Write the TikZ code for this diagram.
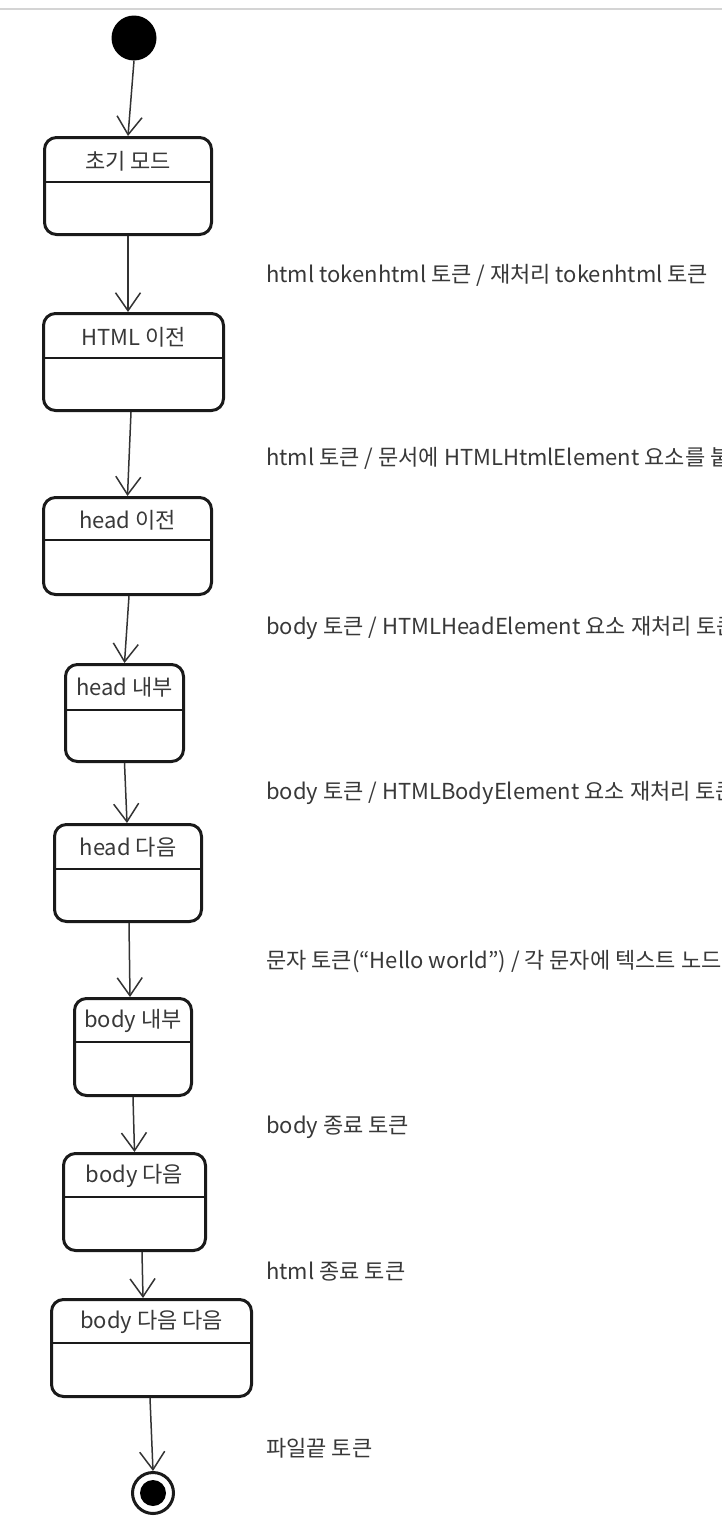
\documentclass[tikz,border=0pt]{standalone}
\usepackage{fontspec}
\setmainfont{Noto Sans CJK KR}
\usetikzlibrary{arrows.meta,positioning}
\definecolor{boxline}{HTML}{1A1A1A}
\definecolor{arrowline}{HTML}{333333}
\definecolor{textgray}{HTML}{383838}
\definecolor{topline}{HTML}{D4D4D4}

\begin{document}
\begin{tikzpicture}[x=1pt,y=-1pt,
    state/.style={draw=boxline,line width=3pt,rounded corners=12pt,minimum height=97pt,inner sep=0pt},
    statename/.style={text=textgray,font=\fontsize{22}{26}\selectfont,inner sep=0pt},
    divider/.style={draw=boxline,line width=1.6pt},
    trans/.style={draw=arrowline,line width=1.5pt,-{Straight Barb[length=18pt,width=25pt]}},
    translabel/.style={anchor=west,text=textgray,font=\fontsize{22}{26}\selectfont,inner sep=0pt}]
    \path[use as bounding box] (0,0) rectangle (722,1518);
    \clip (0,0) rectangle (722,1518);
    \draw[topline,line width=2pt] (0,9) -- (722,9);

    % states
    \node[circle,fill=black,minimum size=45pt,inner sep=0pt] (start) at (134,38) {};
    \node[state,minimum width=167pt] (init) at (128,186) {};
    \node[state,minimum width=180pt] (htmlbefore) at (133.5,362) {};
    \node[state,minimum width=168pt] (headbefore) at (127.5,546) {};
    \node[state,minimum width=118pt] (headin) at (124.5,713) {};
    \node[state,minimum width=147pt] (headafter) at (128,873) {};
    \node[state,minimum width=117pt] (bodyin) at (133,1047) {};
    \node[state,minimum width=142pt] (bodyafter) at (134.5,1202) {};
    \node[state,minimum width=200pt] (bodyafterafter) at (151.5,1348) {};
    \node[circle,draw=boxline,line width=3pt,minimum size=41pt,inner sep=0pt] (stop) at (153,1493) {};
    \fill[black] (stop.center) circle (13pt);

    % names and dividers
    \node[statename] (initname) at ([yshift=-25pt]init.north) {초기 모드};
    \node[statename] (htmlbeforename) at ([yshift=-25pt]htmlbefore.north) {HTML 이전};
    \node[statename] (headbeforename) at ([yshift=-24pt]headbefore.north) {head 이전};
    \node[statename] (headinname) at ([yshift=-24pt]headin.north) {head 내부};
    \node[statename] (headaftername) at ([yshift=-24pt]headafter.north) {head 다음};
    \node[statename] (bodyinname) at ([yshift=-24pt]bodyin.north) {body 내부};
    \node[statename] (bodyaftername) at ([yshift=-24pt]bodyafter.north) {body 다음};
    \node[statename] (bodyafteraftername) at ([yshift=-24pt]bodyafterafter.north) {body 다음 다음};
    \foreach \s/\d in {init/46,htmlbefore/46,headbefore/44,headin/47,headafter/46,bodyin/45,bodyafter/45,bodyafterafter/45} {
        \draw[divider] ([yshift=-\d pt]\s.north west) -- ([yshift=-\d pt]\s.north east);
    }

    % transitions
    \draw[trans] (start.south) -- (init.north);
    \draw[trans] (init.south) -- ([xshift=-5.5pt]htmlbefore.north);
    \draw[trans] ([xshift=-2.5pt]htmlbefore.south) -- (headbefore.north);
    \draw[trans] ([xshift=1.5pt]headbefore.south) -- (headin.north);
    \draw[trans] (headin.south) -- ([xshift=-1pt]headafter.north);
    \draw[trans] ([xshift=1pt]headafter.south) -- ([xshift=-3pt]bodyin.north);
    \draw[trans] (bodyin.south) -- (bodyafter.north);
    \draw[trans] ([xshift=7.5pt]bodyafter.south) -- ([xshift=-8.5pt]bodyafterafter.north);
    \draw[trans] ([xshift=-1.5pt]bodyafterafter.south) -- (stop.north);

    % transition labels
    \node[translabel] (t1) at (266,275) {html tokenhtml 토큰 / 재처리 tokenhtml 토큰};
    \node[translabel] (t2) at (266,458) {html 토큰 / 문서에 HTMLHtmlElement 요소를 붙임};
    \node[translabel] (t3) at (266,628) {body 토큰 / HTMLHeadElement 요소 재처리 토큰};
    \node[translabel] (t4) at (266,793) {body 토큰 / HTMLBodyElement 요소 재처리 토큰};
    \node[translabel] (t5) at (266,962) {문자 토큰(“Hello world”) / 각 문자에 텍스트 노드 추가};
    \node[translabel] (t6) at (266,1127) {body 종료 토큰};
    \node[translabel] (t7) at (266,1272) {html 종료 토큰};
    \node[translabel] (t8) at (266,1448) {파일끝 토큰};
\end{tikzpicture}
\end{document}
